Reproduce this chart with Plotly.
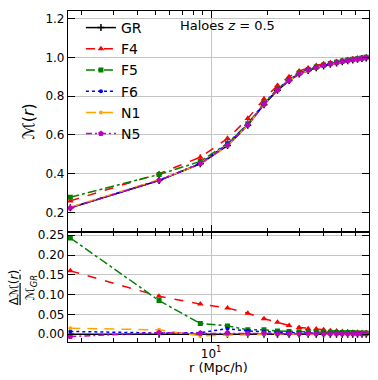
import plotly.graph_objects as go

# ---- data ----
r = [1.75, 5.25, 8.75, 12.25, 15.75, 19.25, 22.75, 26.25, 29.75, 33.25,
     36.75, 40.25, 43.75, 47.25, 50.75, 54.25, 57.75, 61.25, 64.75, 68.25]

M_GR = [0.224, 0.365, 0.451, 0.545, 0.650, 0.756, 0.830, 0.880, 0.914, 0.932,
        0.946, 0.956, 0.964, 0.971, 0.977, 0.982, 0.986, 0.990, 0.994, 0.997]

dF4 = [0.160, 0.096, 0.076, 0.066, 0.053, 0.039, 0.030, 0.022, 0.017, 0.014,
       0.013, 0.011, 0.009, 0.008, 0.007, 0.006, 0.005, 0.005, 0.004, 0.004]
dF5 = [0.243, 0.085, 0.027, 0.021, 0.011, 0.011, 0.008, 0.007, 0.006, 0.006,
       0.005, 0.005, 0.005, 0.004, 0.004, 0.004, 0.004, 0.003, 0.003, 0.003]
dF6 = [0.007, 0.003, 0.004, 0.014, 0.008, 0.006, 0.004, 0.004, 0.003, 0.003,
       0.003, 0.003, 0.002, 0.002, 0.002, 0.002, 0.002, 0.002, 0.001, 0.001]
dN1 = [0.015, 0.011, -0.004, -0.002, -0.001, 0.000, 0.000, 0.001, 0.000, 0.000,
       0.001, 0.000, 0.000, 0.000, 0.000, -0.001, 0.000, 0.000, 0.000, 0.000]
dN5 = [-0.006, 0.004, 0.002, 0.003, 0.002, 0.002, 0.001, 0.001, 0.001, 0.002,
       0.001, 0.001, 0.001, 0.001, 0.001, 0.001, 0.001, 0.001, 0.001, 0.001]
dGR = [0.0] * 20

err_F4 = [0.006, 0.014, 0.015, 0.015, 0.015, 0.014, 0.012, 0.010, 0.008, 0.007,
          0.006, 0.005, 0.005, 0.004, 0.004, 0.003, 0.003, 0.003, 0.003, 0.002]
err_oth = [0.004, 0.006, 0.007, 0.007, 0.007, 0.006, 0.005, 0.005, 0.004, 0.004,
           0.003, 0.003, 0.003, 0.003, 0.002, 0.002, 0.002, 0.002, 0.002, 0.002]

series = [
    ("GR", dGR, "black", "solid", "cross-thin", 5, err_oth),
    ("F4", dF4, "red", "dash", "triangle-up", 6, err_F4),
    ("F5", dF5, "green", "dashdot", "square", 5, err_oth),
    ("F6", dF6, "blue", "dot", "circle", 4, err_oth),
    ("N1", dN1, "orange", "10px,7px", "circle", 4, err_oth),
    ("N5", dN5, "#bf00bf", "6px,3px,2px,3px", "pentagon", 6, err_oth),
]

fig = go.Figure()

for name, d, col, dash, sym, ms, err in series:
    m = [g * (1 + x) for g, x in zip(M_GR, d)]
    fig.add_trace(go.Scatter(
        x=r, y=m, name=name, mode="lines+markers",
        line=dict(color=col, dash=dash, width=1.5),
        marker=dict(color=col, symbol=sym, size=ms,
                    line=dict(color=col, width=1.5 if sym == "cross-thin" else 0)),
        error_y=dict(type="data", array=err, color=col, thickness=1.3, width=0),
        xaxis="x", yaxis="y", showlegend=True))

for name, d, col, dash, sym, ms, err in series:
    fig.add_trace(go.Scatter(
        x=r, y=d, name=name, mode="lines+markers",
        line=dict(color=col, dash=dash, width=1.5),
        marker=dict(color=col, symbol=sym, size=ms,
                    line=dict(color=col, width=1.5 if sym == "cross-thin" else 0)),
        xaxis="x2", yaxis="y2", showlegend=False))

minor_vals = [2, 3, 4, 5, 6, 7, 8, 9, 20, 30, 40, 50, 60, 70]
grid = "#c4c4c4"
axfont = dict(family="DejaVu Sans", size=12, color="black")

common_x = dict(
    type="log", range=[0.2305, 1.849],
    tickvals=[10], ticks="inside", ticklen=7, tickwidth=1, tickcolor="black",
    showline=True, linecolor="black", linewidth=1.2, mirror="allticks",
    showgrid=True, gridcolor=grid, gridwidth=1, zeroline=False,
    minor=dict(tickvals=minor_vals, ticks="inside", ticklen=4, tickcolor="black",
               showgrid=False),
    tickfont=axfont,
)

fig.update_layout(
    width=378, height=380,
    margin=dict(l=68, r=9, t=8, b=33),
    paper_bgcolor="white", plot_bgcolor="white",
    font=dict(family="DejaVu Sans", color="black"),
    xaxis=dict(common_x, domain=[0, 1], anchor="y", showticklabels=False),
    xaxis2=dict(common_x, domain=[0, 1], anchor="y2", matches="x",
                ticktext=["10<sup>1</sup>"],
                title=dict(text="r (Mpc/h)", font=dict(size=13), standoff=2)),
    yaxis=dict(domain=[0.3333, 1], range=[0.101, 1.239],
               tickvals=[0.2, 0.4, 0.6, 0.8, 1.0, 1.2],
               ticktext=["0.2", "0.4", "0.6", "0.8", "1.0", "1.2"],
               ticks="inside", ticklen=7, tickcolor="black",
               showline=True, linecolor="black", linewidth=1.2, mirror="allticks",
               showgrid=True, gridcolor=grid, gridwidth=1, zeroline=False,
               tickfont=axfont,
               title=dict(text="ℳ(<i>r</i>)", font=dict(size=16), standoff=6)),
    yaxis2=dict(domain=[0, 0.3333], range=[-0.0197, 0.259],
                tickvals=[0, 0.05, 0.10, 0.15, 0.20, 0.25],
                ticktext=["0.00", "0.05", "0.10", "0.15", "0.20", "0.25"],
                ticks="inside", ticklen=7, tickcolor="black",
                showline=True, linecolor="black", linewidth=1.2, mirror="allticks",
                showgrid=True, gridcolor=grid, gridwidth=1, zeroline=False,
                tickfont=axfont),
    legend=dict(x=0.043, y=0.997, xanchor="left", yanchor="top",
                bgcolor="rgba(0,0,0,0)", borderwidth=0,
                font=dict(family="DejaVu Sans", size=14),
                tracegroupgap=0, itemwidth=30),
    annotations=[
        dict(text="Haloes <i>z</i> = 0.5", x=0.53, y=0.955, xref="paper", yref="paper",
             xanchor="center", yanchor="middle", showarrow=False,
             font=dict(family="DejaVu Sans", size=13)),
        dict(text="<u>Δℳ(<i>r</i>)</u><br>ℳ<sub><i>GR</i></sub>", x=-0.15, y=0.165,
             xref="paper", yref="paper", textangle=-90, showarrow=False,
             xanchor="center", yanchor="middle",
             font=dict(family="DejaVu Sans", size=12)),
    ],
)

fig.write_html("out.html")
